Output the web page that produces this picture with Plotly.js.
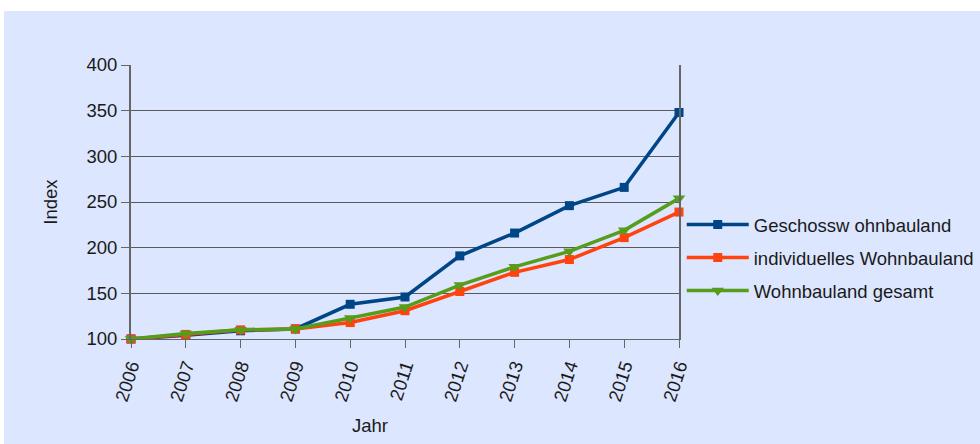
<!DOCTYPE html>
<html>
<head>
<meta charset="utf-8">
<script src="https://cdn.plot.ly/plotly-3.0.1.min.js"></script>
<style>
html,body{margin:0;padding:0;background:#ffffff;width:980px;height:444px;overflow:hidden;}
#chart{position:absolute;left:4px;top:11px;width:976px;height:433px;}
</style>
</head>
<body>
<div id="chart"></div>
<script>
const years = [2006, 2007, 2008, 2009, 2010, 2011, 2012, 2013, 2014, 2015, 2016];
const geschoss = [100, 104, 109, 111, 138, 146, 191, 216, 246, 266, 348];
const individuell = [100, 105, 110, 111, 118, 131, 152, 173, 187, 211, 239];
const gesamt = [100, 106, 110, 111, 123, 135, 159, 179, 196, 219, 254];
const seriesNames = ["Geschossw ohnbauland", "individuelles Wohnbauland", "Wohnbauland gesamt"];
const tickYears = years.map(String);
const xTitle = "Jahr";
const yTitle = "Index";

const FS = 18.5;
const font = {family: "Liberation Sans, Arial, sans-serif", size: FS, color: "#1a1a1a"};

const traces = [
  {x: years, y: geschoss, name: seriesNames[0], mode: "lines+markers", legendgroup: "a", cliponaxis: false,
   line: {color: "#004586", width: 3.5}, marker: {symbol: "square", size: 9, color: "#004586"}},
  {x: years, y: individuell, name: seriesNames[1], mode: "lines+markers", legendgroup: "b", cliponaxis: false,
   line: {color: "#ff420e", width: 3.5}, marker: {symbol: "square", size: 9, color: "#ff420e"}},
  {x: years, y: gesamt, name: seriesNames[2], mode: "lines+markers", legendgroup: "c", cliponaxis: false,
   line: {color: "#579d1c", width: 3.5}, marker: {symbol: "triangle-down", size: 11, color: "#579d1c"}}
];

const layout = {
  width: 976, height: 433,
  margin: {l: 127, r: 301, t: 54, b: 105, autoexpand: false},
  paper_bgcolor: "#dce6fe",
  plot_bgcolor: "rgba(0,0,0,0)",
  font: font,
  showlegend: true,
  legend: {x: 1.005, xanchor: "left", y: 0.296, yanchor: "middle", bgcolor: "rgba(0,0,0,0)",
           font: {family: font.family, size: FS, color: "#1a1a1a"}, traceorder: "grouped",
           tracegroupgap: 6, itemwidth: 62},
  annotations: [
    {text: xTitle, xref: "paper", yref: "paper", x: 0.436, y: -0.314, xanchor: "center", yanchor: "middle",
     showarrow: false, font: {family: font.family, size: FS, color: "#1a1a1a"}}
  ],
  xaxis: {
    range: [2006, 2016], tickmode: "array", tickvals: years, ticktext: tickYears,
    tickangle: -72, ticks: "outside", ticklen: 8, tickcolor: "#666666", tickwidth: 1,
    showgrid: false, zeroline: false, showline: true, linecolor: "#666666", linewidth: 1,
    tickfont: {family: font.family, size: FS, color: "#1a1a1a"}
  },
  yaxis: {
    range: [100, 400], tickmode: "linear", tick0: 100, dtick: 50,
    ticks: "outside", ticklen: 8, tickcolor: "#666666", tickwidth: 1,
    showgrid: true, gridcolor: "#5a5a5a", gridwidth: 1, zeroline: false,
    showline: true, linecolor: "#666666", linewidth: 2, mirror: true,
    title: {text: yTitle, font: {family: font.family, size: FS, color: "#1a1a1a"}, standoff: 24},
    tickfont: {family: font.family, size: FS, color: "#1a1a1a"}
  }
};

Plotly.newPlot("chart", traces, layout, {displayModeBar: false, staticPlot: true});
</script>
</body>
</html>
